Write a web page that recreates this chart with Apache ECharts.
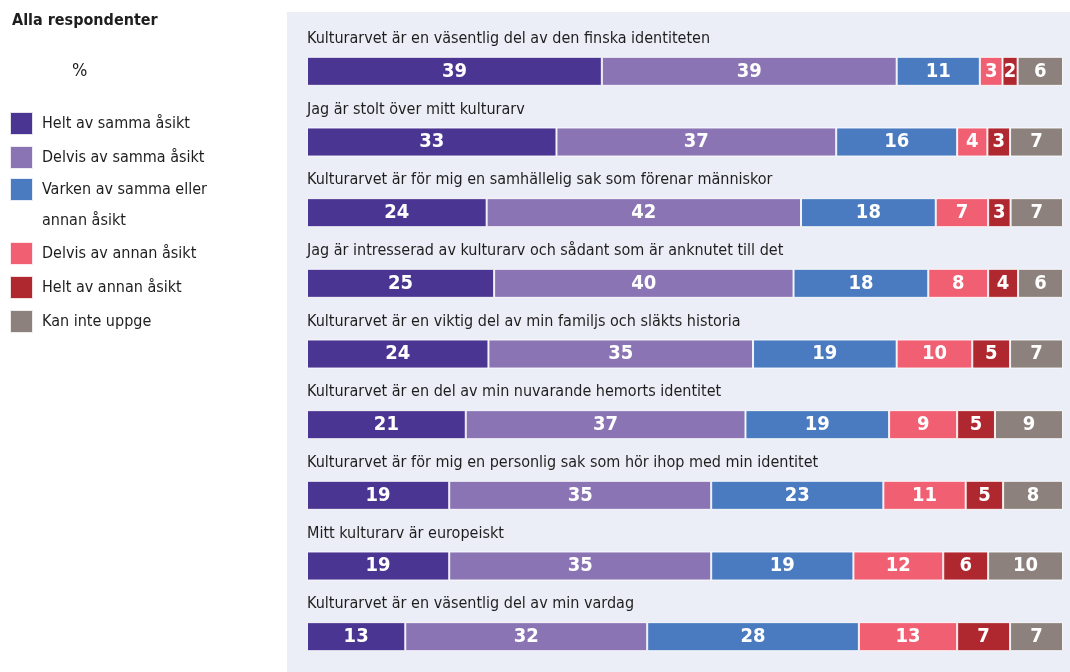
<!DOCTYPE html>
<html>
<head>
<meta charset="utf-8">
<script src="https://cdn.jsdelivr.net/npm/echarts@6/dist/echarts.min.js"></script>
<style>
  html, body { margin: 0; padding: 0; background: #fff; }
  #chart { width: 1070px; height: 672px; }
</style>
</head>
<body>
<div id="chart"></div>
<script>
const questions = [
  'Kulturarvet är en väsentlig del av den finska identiteten',
  'Jag är stolt över mitt kulturarv',
  'Kulturarvet är för mig en samhällelig sak som förenar människor',
  'Jag är intresserad av kulturarv och sådant som är anknutet till det',
  'Kulturarvet är en viktig del av min familjs och släkts historia',
  'Kulturarvet är en del av min nuvarande hemorts identitet',
  'Kulturarvet är för mig en personlig sak som hör ihop med min identitet',
  'Mitt kulturarv är europeiskt',
  'Kulturarvet är en väsentlig del av min vardag'
]
const answers = [
  'Helt av samma åsikt',
  'Delvis av samma åsikt',
  'Varken av samma eller annan åsikt',
  'Delvis av annan åsikt',
  'Helt av annan åsikt',
  'Kan inte uppge'
]
const heltSamma = [39, 33, 24, 25, 24, 21, 19, 19, 13]
const delvisSamma = [39, 37, 42, 40, 35, 37, 35, 35, 32]
const varken = [11, 16, 18, 18, 19, 19, 23, 19, 28]
const delvisAnnan = [3, 4, 7, 8, 10, 9, 11, 12, 13]
const heltAnnan = [2, 3, 3, 4, 5, 5, 5, 6, 7]
const kanInte = [6, 7, 7, 6, 7, 9, 8, 10, 7]
const colors = ['#4b3592', '#8a74b4', '#4a7bc0', '#f05f72', '#b0282f', '#8c817c']

const values = [heltSamma, delvisSamma, varken, delvisAnnan, heltAnnan, kanInte]
// rounded figures add up to 100 or 101, bars are drawn to full width
const rowTotals = questions.map((q, i) => values.reduce((s, arr) => s + arr[i], 0))

const font = '"DejaVu Sans Condensed", "Liberation Sans", sans-serif'

const chart = echarts.init(document.getElementById('chart'))

const series = answers.map((name, k) => ({
  name: name,
  type: 'bar',
  stack: 'total',
  barWidth: 29,
  barGap: '-100%',
  z: 3,
  itemStyle: { color: colors[k], borderColor: 'rgba(255,255,255,0.85)', borderWidth: 1 },
  label: {
    show: true,
    position: 'inside',
    color: '#fff',
    fontFamily: font,
    fontWeight: 'bold',
    fontSize: 20,
    formatter: p => values[k][p.dataIndex]
  },
  data: values[k].map((v, i) => v / rowTotals[i] * 100)
}))

// invisible full-width bar that carries the statement text above each row
series.unshift({
  name: 'statement',
  type: 'bar',
  barWidth: 29,
  barGap: '-100%',
  z: 1,
  silent: true,
  itemStyle: { color: 'transparent' },
  label: {
    show: true,
    position: [0, -18],
    align: 'left',
    verticalAlign: 'middle',
    fontFamily: font,
    fontSize: 16,
    color: '#1e1e1e',
    formatter: p => questions[p.dataIndex]
  },
  data: questions.map(() => 100)
})

const legendText = {
  fontFamily: font,
  fontSize: 16,
  color: '#1e1e1e',
  lineHeight: 23,
  padding: [0, 0, 0, 4]
}

const option = {
  animation: false,
  textStyle: { fontFamily: font },
  graphic: [
    { type: 'rect', shape: { x: 287, y: 12, width: 783, height: 660 }, style: { fill: '#eceef7' }, z: -10 },
    { type: 'text', left: 12, top: 13, style: { text: 'Alla respondenter', fontFamily: font, fontWeight: 'bold', fontSize: 16, fill: '#1e1e1e' } },
    { type: 'text', left: 72, top: 62, style: { text: '%', fontFamily: font, fontSize: 18, fill: '#1e1e1e' } }
  ],
  legend: [
    {
      orient: 'vertical', left: 9, top: 111, padding: 0, itemGap: 9,
      itemWidth: 23, itemHeight: 23, icon: 'rect',
      selectedMode: false,
      data: answers.slice(0, 2),
      textStyle: legendText
    },
    {
      orient: 'vertical', left: 9, top: 143, padding: 0,
      itemWidth: 23, itemHeight: 23, icon: 'rect',
      selectedMode: false,
      data: [answers[2]],
      // empty first line keeps the square level with the first text line
      formatter: () => '\nVarken av samma eller\nannan åsikt',
      textStyle: Object.assign({}, legendText, { lineHeight: 31 })
    },
    {
      orient: 'vertical', left: 9, top: 241, padding: 0, itemGap: 9,
      itemWidth: 23, itemHeight: 23, icon: 'rect',
      selectedMode: false,
      data: answers.slice(3),
      textStyle: legendText
    }
  ],
  grid: { left: 307, right: 7, top: 36, bottom: 0 },
  xAxis: { type: 'value', min: 0, max: 100, show: false },
  yAxis: {
    type: 'category',
    inverse: true,
    data: questions,
    axisLine: { show: false },
    axisTick: { show: false },
    splitLine: { show: false },
    axisLabel: { show: false }
  },
  series: series
}

chart.setOption(option)
</script>
</body>
</html>
